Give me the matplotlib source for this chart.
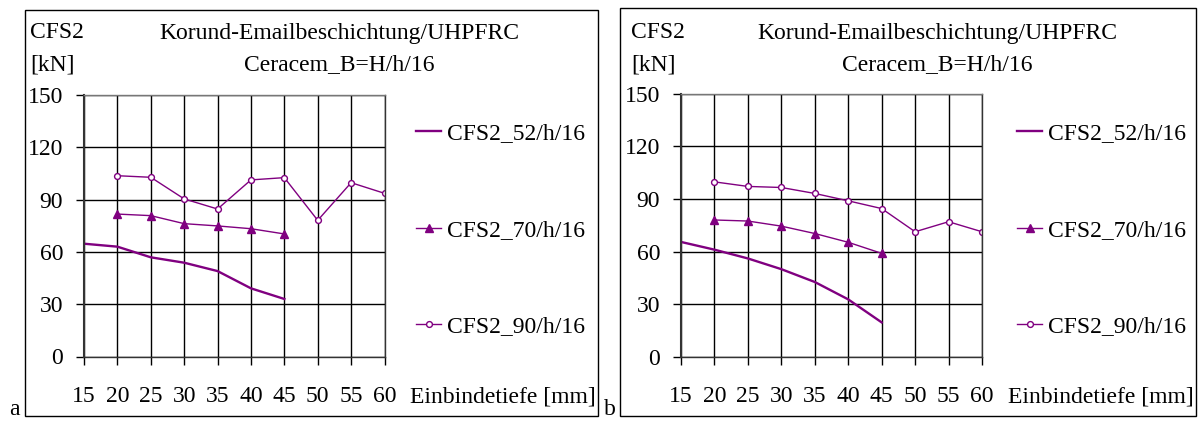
import matplotlib.pyplot as plt
from matplotlib.patches import Rectangle

plt.rcParams['font.family'] = ['Liberation Serif', 'DejaVu Serif']

# Einbindetiefe [mm]
depth_52 = [15, 20, 25, 30, 35, 40, 45]
depth_70 = [20, 25, 30, 35, 40, 45]
depth_90 = [20, 25, 30, 35, 40, 45, 50, 55, 60]

# panel a
a_52 = [64.7, 63.0, 56.9, 53.8, 49.0, 39.1, 33.0]
a_70 = [81.7, 80.8, 76.2, 74.9, 73.3, 70.3]
a_90 = [103.7, 102.8, 90.4, 84.6, 101.3, 102.6, 78.1, 99.7, 93.6]

# panel b
b_52 = [65.5, 61.1, 56.1, 50.0, 42.7, 32.8, 19.7]
b_70 = [78.0, 77.4, 74.5, 70.3, 65.3, 59.0]
b_90 = [99.7, 97.1, 96.5, 93.1, 88.9, 84.5, 71.3, 77.0, 71.3]

labels = ['CFS2_52/h/16', 'CFS2_70/h/16', 'CFS2_90/h/16']
xticks = [15, 20, 25, 30, 35, 40, 45, 50, 55, 60]
yticks = [0, 30, 60, 90, 120, 150]

W, H = 1201, 421
color = '#800080'
fs = 17

fig = plt.figure(figsize=(W / 100, H / 100), dpi=100)


def fx(x):
    return x / W


def fy(y):
    return 1 - y / H


def panel(frame, ax_box, s52, s70, s90, letter, letter_x, txt_x, title_x, leg_x):
    # outer frame
    fl, ft, fr, fb = frame
    fig.patches.append(Rectangle((fx(fl), fy(fb)), fx(fr) - fx(fl), fy(ft) - fy(fb),
                                 transform=fig.transFigure, fill=False,
                                 edgecolor='black', lw=1.0))
    l, t, r, b = ax_box
    ax = fig.add_axes([fx(l), fy(b), fx(r) - fx(l), fy(t) - fy(b)])
    ax.plot(depth_52, s52, color=color, lw=1.7, label=labels[0])
    ax.plot(depth_70, s70, color=color, lw=1.0, marker='^', ms=5.5,
            markerfacecolor=color, label=labels[1])
    ax.plot(depth_90, s90, color=color, lw=1.0, marker='o', ms=4.2,
            markerfacecolor='white', markeredgewidth=1.0, label=labels[2])
    ax.set_xlim(15, 60)
    ax.set_ylim(0, 150)
    ax.set_xticks(xticks)
    ax.set_yticks(yticks)
    ax.grid(True, color='black', lw=1.0)
    ax.tick_params(axis='both', direction='out', length=6, width=1.0, labelsize=fs)
    ax.tick_params(axis='x', pad=15)
    ax.tick_params(axis='y', pad=9)
    for s in ax.spines.values():
        s.set_color('#333333')
        s.set_linewidth(1.0)
    ax.spines['left'].set_linewidth(1.5)
    ax.spines['top'].set_color('#777777')

    fig.text(fx(txt_x), fy(33), 'CFS2', fontsize=fs, va='center', ha='left')
    fig.text(fx(txt_x), fy(65), '[kN]', fontsize=fs, va='center', ha='left')
    fig.text(fx(title_x), fy(33), 'Korund-Emailbeschichtung/UHPFRC', fontsize=fs,
             va='center', ha='center')
    fig.text(fx(title_x), fy(65), 'Ceracem_B=H/h/16', fontsize=fs,
             va='center', ha='center')
    fig.text(fx(r + 26), fy(397), 'Einbindetiefe [mm]', fontsize=fs,
             va='center', ha='left')
    fig.text(fx(letter_x), fy(415), letter, fontsize=fs, va='baseline', ha='left')

    ax.legend(loc='center left', bbox_to_anchor=(fx(leg_x), fy(230)),
              bbox_transform=fig.transFigure, frameon=False, fontsize=fs,
              handlelength=1.06, handletextpad=0.24, labelspacing=3.18,
              borderpad=0, borderaxespad=0)
    return ax


panel((25, 10, 598, 416), (84, 95, 384.5, 356.5), a_52, a_70, a_90,
      'a', 9, 30, 339, 416)
panel((620, 8, 1196, 416), (681, 93.5, 982, 357), b_52, b_70, b_90,
      'b', 604, 631, 937, 1017)

fig.savefig('out.png', dpi=100)
